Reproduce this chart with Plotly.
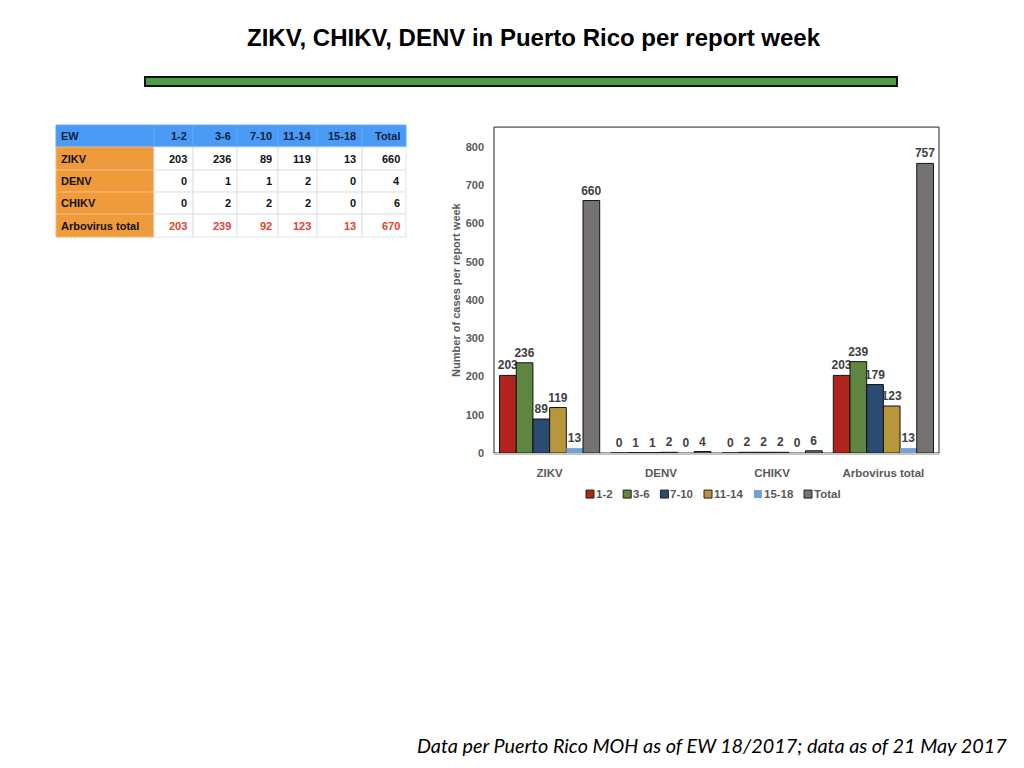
import plotly.graph_objects as go

# ---- chart data ----
categories = ["ZIKV", "DENV", "CHIKV", "Arbovirus total"]
series_names = ["1-2", "3-6", "7-10", "11-14", "15-18", "Total"]
ew_1_2 = [203, 0, 0, 203]
ew_3_6 = [236, 1, 2, 239]
ew_7_10 = [89, 1, 2, 179]
ew_11_14 = [119, 2, 2, 123]
ew_15_18 = [13, 0, 0, 13]
ew_total = [660, 4, 6, 757]
series_colors = ["#B0241D", "#5E8641", "#2A4B72", "#B8963B", "#72A2D3", "#767272"]

# ---- table data ----
table_header = ["EW", "1-2", "3-6", "7-10", "11-14", "15-18", "Total"]
table_rows = ["ZIKV", "DENV", "CHIKV", "Arbovirus total"]
tbl_1_2 = [203, 0, 0, 203]
tbl_3_6 = [236, 1, 2, 239]
tbl_7_10 = [89, 1, 2, 92]
tbl_11_14 = [119, 2, 2, 123]
tbl_15_18 = [13, 0, 0, 13]
tbl_total = [660, 4, 6, 670]

# ---- page geometry (the page body adds an 8px margin) ----
OFF = 8
VS = 0.992
W, H = 1024 - 2 * OFF, 768 - 2 * OFF


def px_x(v):
    return (v - OFF) / W


def px_y(v):
    return 1 - (v / VS - OFF) / H


FONT = "Liberation Sans"
gray = "#595959"

fig = go.Figure()

all_series = [ew_1_2, ew_3_6, ew_7_10, ew_11_14, ew_15_18, ew_total]
for name, vals, col in zip(series_names, all_series, series_colors):
    fig.add_trace(go.Bar(
        name=name, x=categories, y=vals,
        marker=dict(color=col,
                    line=dict(color="#111111", width=0 if name == "15-18" else 1)),
        text=vals, texttemplate="<b>%{text}</b>", textposition="outside",
        textfont=dict(family=FONT, size=12, color="#404040"),
        constraintext="none", cliponaxis=False, showlegend=False,
    ))

shapes = []
annotations = []

# ---- compact legend (built from the series names / colours) ----
lx = 586
ly = 494
for name, col in zip(series_names, series_colors):
    shapes.append(dict(type="rect", xref="paper", yref="paper",
                       x0=px_x(lx), x1=px_x(lx + 8), y0=px_y(ly + 4), y1=px_y(ly - 4),
                       fillcolor=col,
                       line=dict(color="#222222", width=0 if name == "15-18" else 1)))
    annotations.append(dict(text="<b>%s</b>" % name, xref="paper", yref="paper",
                            x=px_x(lx + 8), y=px_y(ly), xanchor="left", yanchor="middle",
                            showarrow=False, font=dict(family=FONT, size=11.5, color=gray)))
    lx += 18 + 6.4 * len(name)

# ---- table (built from the table arrays) ----
col_edges = [56, 154, 193, 237, 278, 317, 362, 406]
row_edges = [125, 147, 170, 192, 214, 237]
tbl_cols = [table_rows, tbl_1_2, tbl_3_6, tbl_7_10, tbl_11_14, tbl_15_18, tbl_total]
red = "#E4432C"
for c in range(len(table_header)):
    x0, x1 = col_edges[c], col_edges[c + 1]
    # header cell
    shapes.append(dict(type="rect", xref="paper", yref="paper",
                       x0=px_x(x0), x1=px_x(x1), y0=px_y(row_edges[1]), y1=px_y(row_edges[0]),
                       fillcolor="#4A9BF6", line=dict(color="#5DA6F6", width=1), layer="below"))
    annotations.append(dict(text="<b>%s</b>" % table_header[c], xref="paper", yref="paper",
                            x=px_x(x0 + 3 if c == 0 else x1 - 4),
                            y=px_y((row_edges[0] + row_edges[1]) / 2),
                            xanchor="left" if c == 0 else "right", yanchor="middle",
                            showarrow=False, font=dict(family=FONT, size=11, color="#15213D")))
    for r in range(len(table_rows)):
        y0, y1 = row_edges[r + 1], row_edges[r + 2]
        fill = "#F09B3B" if c == 0 else "#FFFFFF"
        lc = "#F4B978" if c == 0 else "#E3E3E3"
        shapes.append(dict(type="rect", xref="paper", yref="paper",
                           x0=px_x(x0), x1=px_x(x1), y0=px_y(y1), y1=px_y(y0),
                           fillcolor=fill, line=dict(color=lc, width=1), layer="below"))
        color = red if (c > 0 and r == len(table_rows) - 1) else "#111111"
        annotations.append(dict(text="<b>%s</b>" % tbl_cols[c][r], xref="paper", yref="paper",
                                x=px_x(x0 + 3 if c == 0 else x1 - 4),
                                y=px_y((y0 + y1) / 2),
                                xanchor="left" if c == 0 else "right", yanchor="middle",
                                showarrow=False, font=dict(family=FONT, size=11, color=color)))

# ---- frame, title bar, title, footnote ----
shapes.append(dict(type="rect", xref="paper", yref="paper",
                   x0=px_x(494), x1=px_x(939), y0=px_y(453), y1=px_y(127),
                   line=dict(color="#222222", width=1), layer="below"))
shapes.append(dict(type="rect", xref="paper", yref="paper",
                   x0=px_x(145), x1=px_x(897), y0=px_y(86), y1=px_y(77),
                   fillcolor="#4F9A46", line=dict(color="#111111", width=2)))
annotations.append(dict(text="<b>ZIKV, CHIKV, DENV in Puerto Rico per report week</b>",
                        xref="paper", yref="paper", x=px_x(534), y=px_y(37),
                        xanchor="center", yanchor="middle", showarrow=False,
                        font=dict(family=FONT, size=24, color="#000000")))
annotations.append(dict(text="<i>Data per Puerto Rico MOH as of EW 18/2017; data as of 21 May 2017</i>",
                        xref="paper", yref="paper", x=px_x(1009), y=px_y(745),
                        xanchor="right", yanchor="middle", showarrow=False,
                        font=dict(family="Lato", size=19.8, color="#000000")))

fig.update_layout(
    width=W, height=H,
    margin=dict(l=0, r=0, t=0, b=0),
    paper_bgcolor="white", plot_bgcolor="white",
    barmode="group", bargap=0.1, bargroupgap=0,
    showlegend=False,
    xaxis=dict(domain=[px_x(494), px_x(939)], showline=True, linecolor="#C4C4C4", linewidth=1.5,
               ticks="", ticklabelstandoff=8,
               tickfont=dict(family=FONT, size=11.5, color=gray, weight="bold"),
               fixedrange=True),
    yaxis=dict(domain=[px_y(453), px_y(127)], range=[0, 852], dtick=100, showgrid=False,
               zeroline=False, showline=False, ticks="", ticklabelstandoff=9,
               tickfont=dict(family=FONT, size=11, color=gray, weight="bold"),
               title=dict(text="Number of cases per report week", standoff=2,
                          font=dict(family=FONT, size=11, color=gray, weight="bold"))),
    shapes=shapes,
    annotations=annotations,
)

fig.write_html("out.html")
